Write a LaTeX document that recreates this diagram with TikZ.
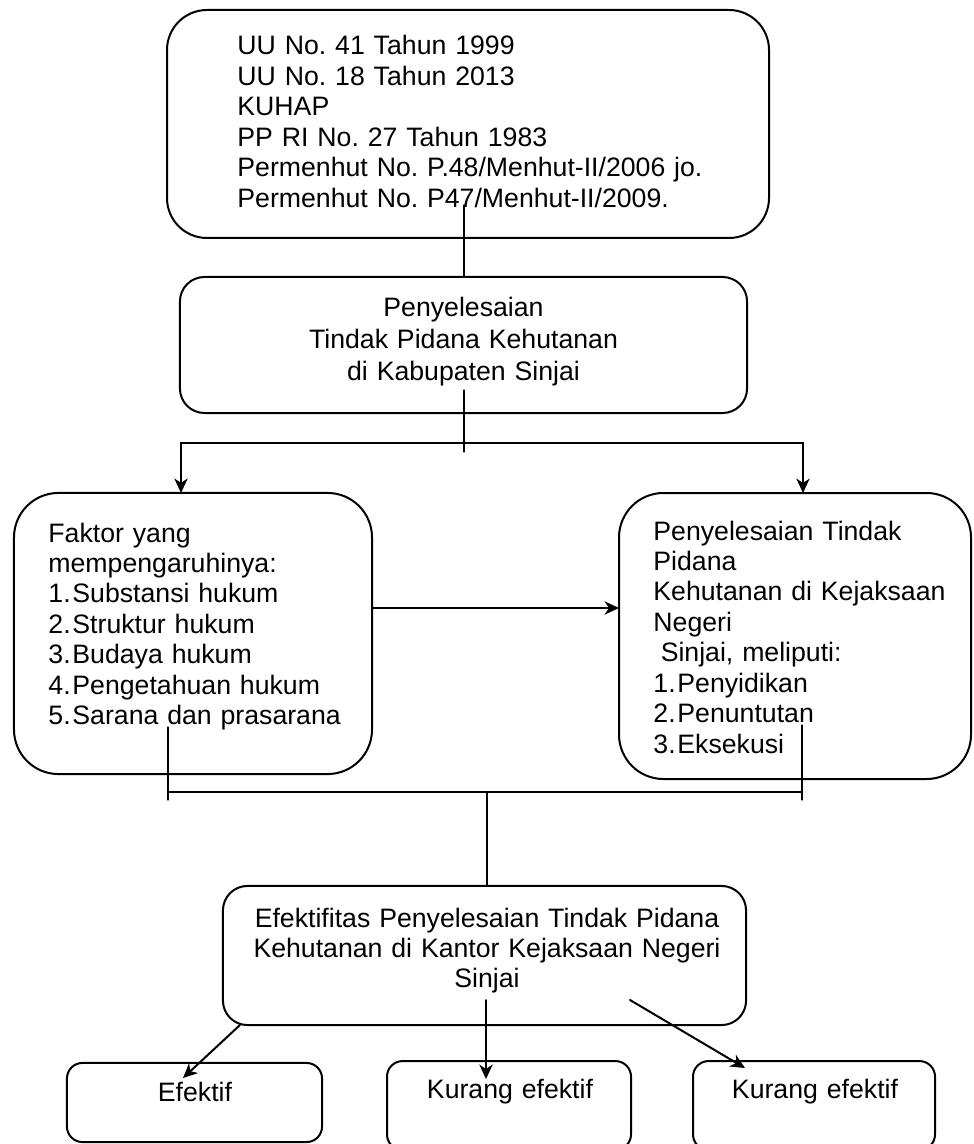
\documentclass[tikz,border=0pt]{standalone}
\usepackage{fontspec}
\setmainfont{Liberation Sans}[Ligatures=NoCommon]
\usetikzlibrary{arrows.meta}
\newcommand{\butir}[1]{\makebox[10.8pt][l]{#1.}}
\frenchspacing

\begin{document}
\begin{tikzpicture}[x=0.45pt,y=-0.45pt,>={Stealth[length=6.5pt,width=6pt,inset=2pt]},
  font=\fontsize{12pt}{13.7pt}\selectfont,line cap=round,
  rbox/.style={draw,line width=0.9pt,outer sep=0pt,inner sep=0pt},
  txt/.style={inner sep=0pt,text width=#1,align=left,anchor=base west},
  mtxt/.style={inner sep=0pt,text width=#1,align=center,anchor=base},
  link/.style={line width=0.55pt},
  arr/.style={->,line width=0.9pt}]
\useasboundingbox (0,0) rectangle (973,1144);
% kotak dasar hukum
\node[rbox,rounded corners=18pt,minimum width=270.9pt,minimum height=102.6pt] (dasar) at (468,124) {};
\node[txt=240pt] (dasarT) at (237,55) {UU No. 41 Tahun 1999\\UU No. 18 Tahun 2013\\KUHAP\\PP RI No. 27 Tahun 1983\\Permenhut No. P.48/Menhut-II/2006 jo.\\Permenhut No. P47/Menhut-II/2009.};
% penyelesaian
\node[rbox,rounded corners=11pt,minimum width=255.2pt,minimum height=61.2pt] (sinjai) at (463.5,345) {};
\node[mtxt=240pt,font=\fontsize{12pt}{14.2pt}\selectfont] (sinjaiT) at (463.5,317) {Penyelesaian\\Tindak Pidana Kehutanan\\di Kabupaten Sinjai};
% faktor dan kejaksaan
\node[rbox,rounded corners=20pt,minimum width=161.1pt,minimum height=126.5pt] (faktor) at (193,633.5) {};
\node[txt=150pt] (faktorT) at (48,542) {Faktor yang\\mempengaruhinya:\\\butir{1}Substansi hukum\\\butir{2}Struktur hukum\\\butir{3}Budaya hukum\\\butir{4}Pengetahuan hukum\\\butir{5}Sarana dan prasarana};
\node[rbox,rounded corners=20pt,minimum width=158.4pt,minimum height=128.7pt] (kejari) at (795,636) {};
\node[txt=150pt] (kejariT) at (653,540) {Penyelesaian Tindak\\Pidana\\Kehutanan di Kejaksaan\\Negeri\\\hspace*{3.3pt}Sinjai, meliputi:\\\butir{1}Penyidikan\\\butir{2}Penuntutan\\\butir{3}Eksekusi};
% efektifitas
\node[rbox,rounded corners=11pt,minimum width=235.4pt,minimum height=62.6pt] (efek) at (484.5,955.5) {};
\node[mtxt=240pt] (efekT) at (487,927) {Efektifitas Penyelesaian Tindak Pidana\\Kehutanan di Kantor Kejaksaan Negeri\\Sinjai};
% hasil
\node[rbox,rounded corners=7pt,minimum width=114.8pt,minimum height=35.6pt] (hasil1) at (194.5,1102.5) {};
\node[rbox,rounded corners=7pt,minimum width=109.8pt,minimum height=40pt] (hasil2) at (509,1105.5) {};
\node[rbox,rounded corners=7pt,minimum width=108.9pt,minimum height=40pt] (hasil3) at (814,1105.5) {};
\node[mtxt=100pt] (hasil1T) at (195,1101) {Efektif};
\node[mtxt=100pt] (hasil2T) at (510,1098) {Kurang efektif};
\node[mtxt=100pt] (hasil3T) at (815,1098) {Kurang efektif};
% penghubung
\coordinate (a1) at (464,205);
\coordinate (a2) at (464,390);
\coordinate (a3) at (464,452);
\coordinate (busL) at (181,443);
\coordinate (busR) at (803,443);
\coordinate (mid) at (372,608);
\coordinate (dL) at (168,727);
\coordinate (dR) at (802,725);
\coordinate (j) at (487,792);
\coordinate (e1) at (240,1025);
\coordinate (e1t) at (183,1078);
\coordinate (e2) at (486,1000);
\coordinate (e2t) at (486,1079);
\coordinate (e3) at (630,1000);
\coordinate (e3t) at (745,1068);
\draw[link] (a1) -- (a1 |- sinjai.north);
\draw[link] (a2) -- (a3);
\draw[arr,<->] (busL |- faktor.north) -- (busL) -- (busR) -- (busR |- kejari.north);
\draw[arr] (mid) -- (mid -| kejari.west);
\draw[link] (dL) -- ++(0,73);
\draw[link] (dR) -- ++(0,75);
\draw[line width=0.9pt] (dL |- j) -- (dR |- j);
\draw[link] (j) -- (j |- efek.north);
\draw[arr] (e1) -- (e1t);
\draw[arr] (e2) -- (e2t);
\draw[arr] (e3) -- (e3t);
\end{tikzpicture}
\end{document}
